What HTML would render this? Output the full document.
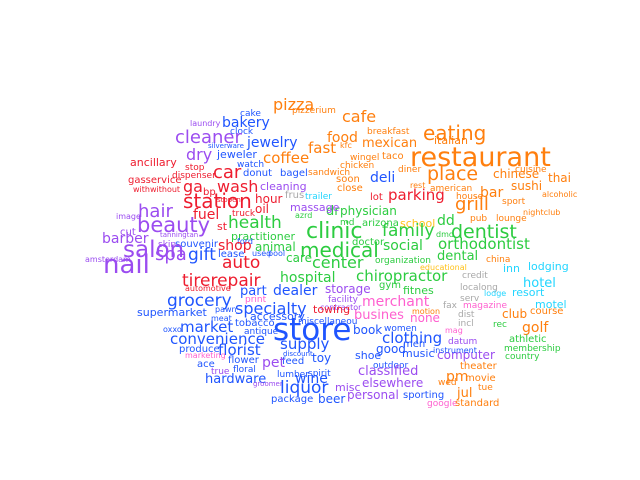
<!DOCTYPE html>
<html><head><meta charset="utf-8"><style>
html,body{margin:0;padding:0;background:#fff;width:640px;height:480px;overflow:hidden}
svg text{font-family:"DejaVu Sans","Liberation Sans",sans-serif}
</style></head><body>
<svg id="cloud" width="640" height="480" xmlns="http://www.w3.org/2000/svg"></svg>
<script>
const words=["pizza","pizzerium","cafe","eating","breakfast","food","mexican","italian","restaurant","kfc","fast","wingel","taco","chicken","sandwich","place","chinese","thai","cuisine","soon","deli","diner","close","rest","american","sushi","bar","house","alcoholic","lot","parking","grill","sport","nightclub","dr","physician","pub","lounge","md","arizona","school","dd","clinic","family","dmd","dentist","doctor","medical","social","orthodontist","dental","organization","china","center","educational","hospital","chiropractor","inn","lodging","credit","hotel","gym","fitnes","storage","localong","resort","lodge","serv","motel","merchant","fax","magazine","dist","incl","club","course","busines","none","motion","golf","rec","book","women","clothing","athletic","membership","country","datum","mag","good","men","music","computer","shoe","instrument","outdoor","classified","theater","pm","movie","elsewhere","tue","wed","jul","sporting","personal","google","standard","cake","bakery","laundry","clock","cleaner","jewelry","dry","jeweler","silverware","coffee","ancillary","watch","stop","car","donut","bagel","dispenser","gasservice","withwithout","ga","wash","bp","cleaning","stopen","station","hour","frus","trailer","massage","oil","fuel","truck","azrd","hair","image","st","health","beauty","cut","practitioner","barber","ford","tanningtan","skin","souvenir","shop","animal","care","gift","lease","used","pool","salon","amsterdam","spa","auto","nail","tirerepair","part","dealer","automotive","grocery","specialty","facility","print","contractor","towing","supermarket","pawn","accessory","meat","market","tobacco","miscellaneou","store","oxxo","antique","convenience","supply","produce","florist","marketing","flower","ace","feed","pet","toy","discount","floral","true","lumber","spirit","hardware","wine","misc","groomer","liquor","package","beer"];
const xs=[273,292,342,423,367,327,362,434,410,340,308,350,382,340,308,427,493,548,515,336,370,398,337,410,430,511,480,456,542,370,388,455,502,523,326,340,470,496,340,362,400,437,306,382,436,451,352,300,383,438,437,375,486,312,420,280,356,503,528,462,523,379,403,325,460,512,484,460,535,362,443,463,458,458,502,530,354,410,412,522,493,353,384,382,509,504,505,448,445,376,403,402,437,355,433,373,358,460,446,465,362,478,438,457,403,347,427,455,240,222,190,230,175,247,186,217,208,263,130,237,185,213,243,280,172,128,133,183,217,203,260,217,183,255,285,305,290,255,193,232,295,138,116,217,228,137,120,231,102,237,160,158,175,218,255,286,188,218,252,268,123,85,155,222,103,182,240,273,185,167,235,328,245,320,313,137,215,250,211,180,235,298,273,163,244,170,280,179,218,185,228,197,282,262,312,283,233,211,277,308,205,295,335,253,280,271,318];
const ys=[110,113,122,140,134,142,147,144,166,148,153,160,159,168,175,180,178,182,172,182,182,172,191,188,191,190,197,199,197,200,200,210,204,215,215,215,221,221,225,226,227,225,238,236,237,238,245,257,250,249,260,263,262,268,270,282,281,272,270,278,287,288,294,293,290,296,296,301,308,306,308,308,317,326,318,314,319,322,314,332,327,334,331,343,342,351,359,344,333,353,347,357,359,359,353,368,375,369,381,381,387,390,385,397,398,399,406,406,116,127,126,134,143,147,160,158,148,163,166,167,170,178,176,176,178,183,192,192,192,195,190,202,208,203,198,199,211,213,219,216,218,217,219,230,228,232,235,240,243,244,237,247,247,250,251,262,260,257,256,256,257,262,260,268,273,286,295,295,291,306,314,302,302,310,313,316,312,320,321,332,326,324,340,332,334,344,349,352,355,358,363,367,364,367,362,356,372,374,377,376,383,383,391,386,393,402,403];
const sizes=[16,9,16,20,9,14,13,11,27,8,15,9,10,9,9,19,12,12,9,10,14,9,10,8,9,12,14,9,8,10,15,18,9,8,13,12,9,9,9,10,11,14,22,17,8,19,10,20,14,15,13,9,9,16,8,14,15,11,11,9,13,10,11,12,9,11,8,9,11,14,9,9,9,9,12,10,13,12,8,14,9,12,9,15,10,9,9,9,8,12,10,11,12,11,8,9,13,10,14,10,12,9,9,13,10,12,9,10,9,14,8,9,18,14,16,11,7,15,11,9,9,18,10,10,9,10,8,16,16,10,11,7,20,12,10,9,11,12,14,9,8,18,8,11,17,21,10,11,14,8,7,9,10,14,12,12,17,10,8,8,23,8,18,17,26,17,13,14,8,17,16,9,9,8,11,11,8,11,8,15,10,9,31,8,9,15,15,10,15,8,10,10,10,14,12,7,9,9,9,9,13,14,11,7,17,10,12];
const colors=[
"O","O","O","O","O","O","O","O","O","O",
"O","O","O","O","O","O","O","O","O","O",
"B","O","O","O","O","O","O","O","O","R",
"R","O","O","O","G","G","O","O","G","G",
"Y","G","G","G","G","G","G","G","G","G",
"G","G","O","G","Y","G","G","C","C","N",
"C","G","G","P","N","C","C","N","C","K",
"N","K","N","N","O","O","K","K","O","O",
"G","B","B","B","G","G","G","P","K","B",
"B","B","P","B","B","B","P","O","O","O",
"P","O","O","O","B","P","K","O","B","B",
"P","B","P","B","P","B","B","O","R","B",
"R","R","B","B","R","R","R","R","R","R",
"P","R","R","R","N","C","P","R","R","R",
"G","P","P","R","G","P","P","G","P","B",
"P","P","B","R","G","G","B","B","B","B",
"P","P","P","R","P",
"R","B","B","R","B","B","P","K","P","R",
"B","B","B","B","B","B","B","B","B","B",
"B","B","B","B","K","B","B","B","P","B",
"B","B","P","B","B","B","B","P","P","B",
"B","B"];
const cmap={O:"#ff7f0e",B:"#1f55ff",R:"#ee1c2e",G:"#2ccc40",P:"#9b4cf0",C:"#22d5ff",K:"#ff5fcf",Y:"#ffc21a",N:"#a8a8a8"};
const svg=document.getElementById('cloud');
const NS="http://www.w3.org/2000/svg";
for(let i=0;i<words.length;i++){
  const t=document.createElementNS(NS,'text');
  t.setAttribute('x',xs[i]);
  t.setAttribute('y',ys[i]);
  t.setAttribute('font-size',sizes[i]);
  t.setAttribute('fill',cmap[colors[i]]||"#1f55ff");
  t.textContent=words[i];
  
  
  svg.appendChild(t);
}
</script>
</body></html>
